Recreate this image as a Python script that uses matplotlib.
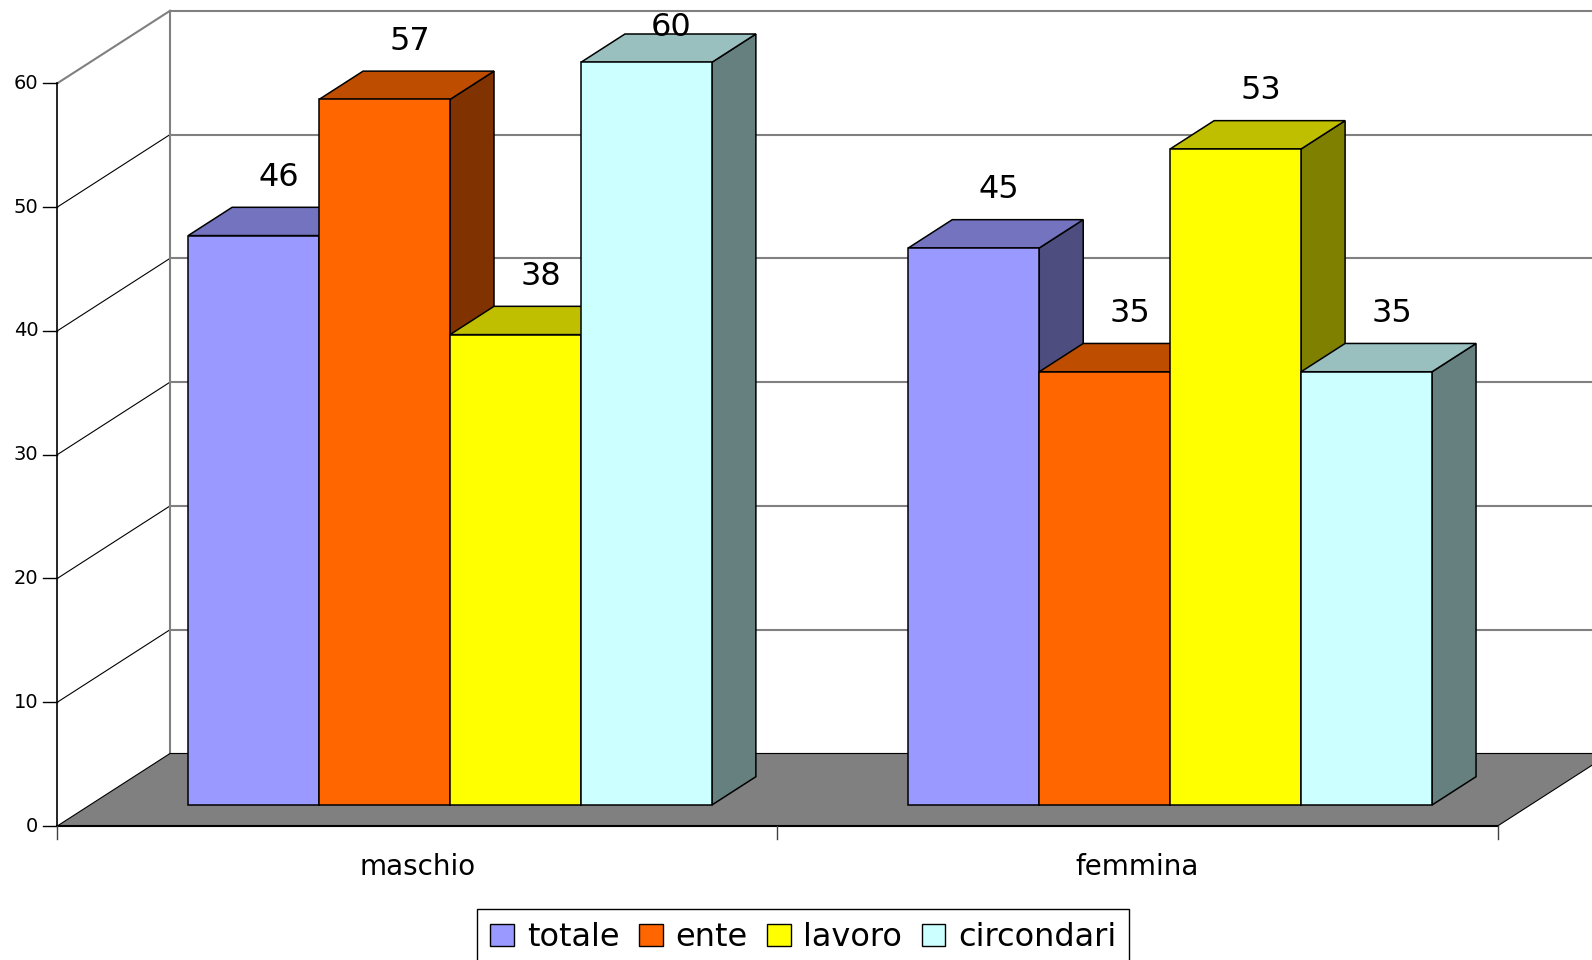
import matplotlib.pyplot as plt
from matplotlib.patches import Polygon, Patch
import matplotlib.colors as mcolors

# data
categories = ['maschio', 'femmina']
series = ['totale', 'ente', 'lavoro', 'circondari']
totale = [46, 45]
ente = [57, 35]
lavoro = [38, 53]
circondari = [60, 35]
colors = ['#9999FF', '#FF6600', '#FFFF00', '#CCFFFF']
y_ticks = [0, 10, 20, 30, 40, 50, 60]

values = [totale, ente, lavoro, circondari]

W, H = 1592, 960
fig = plt.figure(figsize=(W / 100, H / 100), dpi=100)

# axes = front plane of the 3d box: x in category units, y in values
ax = fig.add_axes([57.3 / W, (H - 826) / H, 1440.3 / W, 742.7 / H])
ax.set_xlim(0, 2)
ax.set_ylim(0, 60)
ax.axis('off')

px_x = 2 / 1440.3      # one pixel in x data units
px_y = 60 / 742.7      # one pixel in y data units
DX, DY = 112.7 * px_x, 72.5 * px_y   # full depth of the box
D0, D1 = 0.29, 0.68                  # bars sit between these depths
BW = 1 / 5.5                         # bar width (gap 150%)
n_cat = len(categories)


def P(x, y, d):
    return (x + d * DX, y + d * DY)


def shade(c, f):
    r, g, b = mcolors.to_rgb(c)
    return (r * f, g * f, b * f)


def seg(a, b, **kw):
    ax.plot([a[0], b[0]], [a[1], b[1]], clip_on=False, **kw)


z = 1
# back wall gridlines
for v in y_ticks:
    seg(P(0, v, 1), P(n_cat, v, 1), color='#808080', lw=1.5, zorder=z)
# left wall diagonals
for v in y_ticks[1:]:
    top = v == y_ticks[-1]
    seg(P(0, v, 0), P(0, v, 1), color='#808080' if top else 'black',
        lw=1.5 if top else 0.8, zorder=z)
seg(P(0, 0, 1), P(0, 60, 1), color='#808080', lw=1.5, zorder=z)

# floor
z += 1
floor = Polygon([P(0, 0, 0), P(0, 0, 1), P(n_cat, 0, 1), P(n_cat, 0, 0)], closed=True,
                facecolor='#808080', edgecolor='black', lw=0.8, clip_on=False, zorder=z)
ax.add_patch(floor)
seg(P(0, 0, 0), P(n_cat, 0, 0), color='black', lw=1.5, zorder=z + 1)
z += 2

# bars, left to right so each bar hides the side face of the previous one
for c in range(n_cat):
    for i, vals in enumerate(values):
        v = vals[c]
        col = colors[i]
        x0 = c + (0.75 + i) * BW
        x1 = x0 + BW
        side = [P(x1, 0, D0), P(x1, 0, D1), P(x1, v, D1), P(x1, v, D0)]
        top = [P(x0, v, D0), P(x1, v, D0), P(x1, v, D1), P(x0, v, D1)]
        front = [P(x0, 0, D0), P(x1, 0, D0), P(x1, v, D0), P(x0, v, D0)]
        for pts, f in ((side, 0.5), (top, 0.75), (front, 1.0)):
            ax.add_patch(Polygon(pts, closed=True, facecolor=shade(col, f),
                                 edgecolor='black', lw=1.1, joinstyle='miter',
                                 clip_on=False, zorder=z))
            z += 1

# value labels
for c in range(n_cat):
    for i, vals in enumerate(values):
        v = vals[c]
        x0 = c + (0.75 + i) * BW
        lx = x0 + BW / 2 + D0 * DX + 25 * px_x
        ly = min(v + D1 * DY + 30 * px_y, 64.5)
        ax.text(lx, ly, str(v), ha='center', va='center', fontsize=23,
                zorder=z, clip_on=False)

# value axis
ax.plot([0, 0], [0, 60], color='black', lw=1.2, clip_on=False, zorder=z)
for v in y_ticks:
    ax.plot([-14 * px_x, 0], [v, v], color='black', lw=1.0, clip_on=False, zorder=z)
    ax.text(-19 * px_x, v, str(v), ha='right', va='center', fontsize=14)

# category axis
for c in range(n_cat + 1):
    ax.plot([c, c], [0, -13 * px_y], color='#404040', lw=1.0, clip_on=False, zorder=z)
for c, name in enumerate(categories):
    ax.text(c + 0.5, -49 * px_y, name, ha='center', va='baseline', fontsize=20)

# legend
handles = [Patch(facecolor=col, edgecolor='black', lw=1) for col in colors]
leg = fig.legend(handles, series, loc='upper left',
                 bbox_to_anchor=(477.3 / W, 1 - 909.3 / H), ncol=4, fontsize=23,
                 frameon=True, fancybox=False, edgecolor='black', framealpha=1,
                 borderpad=0.4, handlelength=0.75, handleheight=0.68,
                 handletextpad=0.4, columnspacing=0.6, borderaxespad=0)
leg.get_frame().set_linewidth(1.0)

fig.savefig('out.png', dpi=100)
